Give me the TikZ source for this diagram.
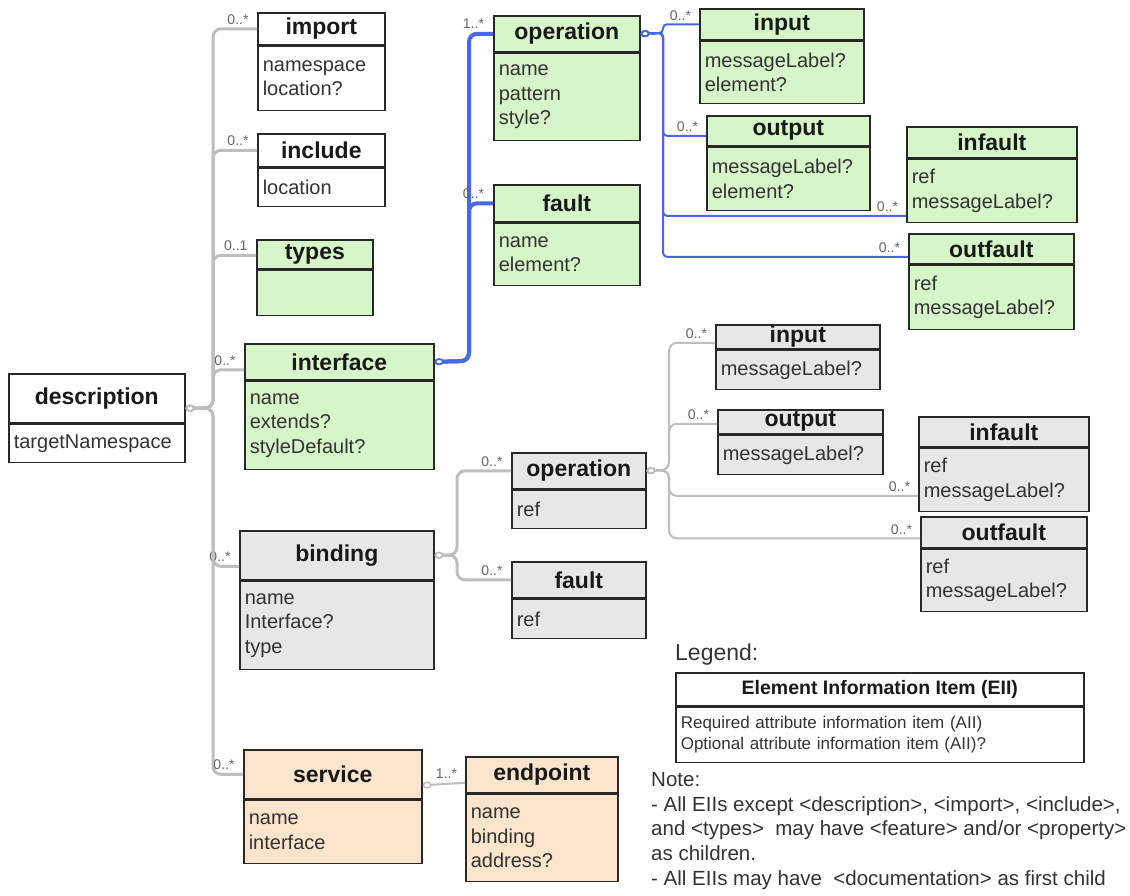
\documentclass[tikz,border=0pt]{standalone}
\usepackage{fontspec}
\setmainfont{Liberation Sans}
\usepackage{tikz}
\usetikzlibrary{arrows.meta,positioning}

\definecolor{eiigreen}{RGB}{214,245,200}
\definecolor{eiigray}{RGB}{231,231,231}
\definecolor{eiitan}{RGB}{250,228,204}
\definecolor{boxline}{RGB}{40,40,40}
\definecolor{linkgray}{RGB}{190,190,190}
\definecolor{linkblue}{RGB}{72,104,228}

\begin{document}
\begin{tikzpicture}[x=1pt, y=-1pt,
        head/.style={draw=boxline, line width=1.6pt, anchor=north west, inner sep=0pt, text=black!90,
            font=\bfseries\fontsize{23}{25}\selectfont},
        body/.style={draw=boxline, line width=1.6pt, inner xsep=5pt, inner ysep=0pt, align=left, text=black!80,
            font=\fontsize{20}{24.5}\selectfont},
        mult/.style={font=\fontsize{14}{14}\selectfont, text=black!60, inner sep=1pt, anchor=south east,
            xshift=-6pt, yshift=2pt},
        gline/.style={draw=linkgray, line width=3pt, rounded corners=8pt},
        bline/.style={draw=linkblue, line width=2pt, rounded corners=4pt},
        bthick/.style={draw=linkblue, line width=4pt, rounded corners=8pt},
        hole/.style={{Circle[open, length=9pt, width=7pt, line width=1.5pt]}-}]
        \fill[white] (0,0) rectangle (1130,895);
        \useasboundingbox (0,0) rectangle (1130,895);

        % Place nodes
        \node[head, fill=white, minimum width=176pt, minimum height=49pt] (desc) at (8,373) {description};
        \node[body, fill=white, minimum width=176pt, minimum height=38pt, text width=166pt, below=0pt of desc] (desc-a) {targetNamespace};

        \node[head, fill=white, minimum width=127pt, minimum height=32pt] (import) at (257,12) {import};
        \node[body, fill=white, minimum width=127pt, minimum height=64pt, text width=117pt, below=0pt of import] (import-a) {namespace\\location?};
        \node[head, fill=white, minimum width=127pt, minimum height=33pt] (include) at (257,133) {include};
        \node[body, fill=white, minimum width=127pt, minimum height=38pt, text width=117pt, below=0pt of include] (include-a) {location};
        \node[head, fill=eiigreen, minimum width=116pt, minimum height=29pt] (types) at (256,239) {types};
        \node[body, fill=eiigreen, minimum width=116pt, minimum height=45pt, text width=106pt, below=0pt of types] (types-a) {};
        \node[head, fill=eiigreen, minimum width=189pt, minimum height=36pt] (interface) at (244,343) {interface};
        \node[body, fill=eiigreen, minimum width=189pt, minimum height=88pt, text width=179pt, below=0pt of interface] (interface-a) {name\\extends?\\styleDefault?};
        \node[head, fill=eiigray, minimum width=194pt, minimum height=49pt] (binding) at (239,530) {binding};
        \node[body, fill=eiigray, minimum width=194pt, minimum height=88pt, text width=184pt, below=0pt of binding] (binding-a) {name\\Interface?\\type};
        \node[head, fill=eiitan, minimum width=178pt, minimum height=49pt] (service) at (243,749) {service};
        \node[body, fill=eiitan, minimum width=178pt, minimum height=63pt, text width=168pt, below=0pt of service] (service-a) {name\\interface};
        \node[head, fill=eiitan, minimum width=152pt, minimum height=36pt] (endpoint) at (465,756) {endpoint};
        \node[body, fill=eiitan, minimum width=152pt, minimum height=87pt, text width=142pt, below=0pt of endpoint] (endpoint-a) {name\\binding\\address?};

        % interface children
        \node[head, fill=eiigreen, minimum width=146pt, minimum height=36pt] (iop) at (493,15) {operation};
        \node[body, fill=eiigreen, minimum width=146pt, minimum height=87pt, text width=136pt, below=0pt of iop] (iop-a) {name\\pattern\\style?};
        \node[head, fill=eiigreen, minimum width=146pt, minimum height=37pt] (ifault) at (493,184) {fault};
        \node[body, fill=eiigreen, minimum width=146pt, minimum height=62pt, text width=136pt, below=0pt of ifault] (ifault-a) {name\\element?};
        \node[head, fill=eiigreen, minimum width=164pt, minimum height=31pt] (iin) at (699,8) {input};
        \node[body, fill=eiigreen, minimum width=164pt, minimum height=62pt, text width=154pt, below=0pt of iin] (iin-a) {messageLabel?\\element?};
        \node[head, fill=eiigreen, minimum width=163pt, minimum height=30pt] (iout) at (706,115) {output};
        \node[body, fill=eiigreen, minimum width=163pt, minimum height=63pt, text width=153pt, below=0pt of iout] (iout-a) {messageLabel?\\element?};
        \node[head, fill=eiigreen, minimum width=170pt, minimum height=31pt] (iinfault) at (906,126) {infault};
        \node[body, fill=eiigreen, minimum width=170pt, minimum height=63pt, text width=160pt, below=0pt of iinfault] (iinfault-a) {ref\\messageLabel?};
        \node[head, fill=eiigreen, minimum width=165pt, minimum height=30pt] (ioutfault) at (908,233) {outfault};
        \node[body, fill=eiigreen, minimum width=165pt, minimum height=64pt, text width=155pt, below=0pt of ioutfault] (ioutfault-a) {ref\\messageLabel?};

        % binding children
        \node[head, fill=eiigray, minimum width=134pt, minimum height=36pt] (bop) at (511,452) {operation};
        \node[body, fill=eiigray, minimum width=134pt, minimum height=38pt, text width=124pt, below=0pt of bop] (bop-a) {ref};
        \node[head, fill=eiigray, minimum width=134pt, minimum height=36pt] (bfault) at (511,561) {fault};
        \node[body, fill=eiigray, minimum width=134pt, minimum height=39pt, text width=124pt, below=0pt of bfault] (bfault-a) {ref};
        \node[head, fill=eiigray, minimum width=164pt, minimum height=24pt] (bin) at (715,324) {input};
        \node[body, fill=eiigray, minimum width=164pt, minimum height=39pt, text width=154pt, below=0pt of bin] (bin-a) {messageLabel?};
        \node[head, fill=eiigray, minimum width=165pt, minimum height=24pt] (bout) at (717,409) {output};
        \node[body, fill=eiigray, minimum width=165pt, minimum height=39pt, text width=155pt, below=0pt of bout] (bout-a) {messageLabel?};
        \node[head, fill=eiigray, minimum width=170pt, minimum height=30pt] (binfault) at (918,416) {infault};
        \node[body, fill=eiigray, minimum width=170pt, minimum height=63pt, text width=160pt, below=0pt of binfault] (binfault-a) {ref\\messageLabel?};
        \node[head, fill=eiigray, minimum width=166pt, minimum height=31pt] (boutfault) at (920,516) {outfault};
        \node[body, fill=eiigray, minimum width=166pt, minimum height=62pt, text width=156pt, below=0pt of boutfault] (boutfault-a) {ref\\messageLabel?};

        % Legend and note
        \node[anchor=west, inner sep=0pt, text=black!80, font=\fontsize{23}{23}\selectfont] (legendtitle) at (675,655) {Legend:};
        \node[head, fill=white, minimum width=408pt, minimum height=33pt, font=\bfseries\fontsize{19.5}{21}\selectfont] (legend) at (675,672) {Element Information Item (EII)};
        \node[body, fill=white, minimum width=408pt, minimum height=55pt, text width=398pt, font=\fontsize{17}{21}\selectfont, below=0pt of legend] (legend-a) {Required attribute information item (AII)\\Optional attribute information item (AII)?};
        \node[anchor=north west, align=left, inner sep=0pt, text=black!80, font=\fontsize{20.5}{24.75}\selectfont] (note) at (651,772)
            {Note:\\- All EIIs except <description>, <import>, <include>,\\and <types>\ \ may have <feature> and/or <property>\\as children.\\- All EIIs may have\ \ <documentation> as first child};

        % Draw edges
        \coordinate (dtrunk) at (213,408);
        \draw[gline, hole] ([yshift=-10pt]desc.east) -- (dtrunk) |- (import.west) node[mult, at end] {0..*};
        \draw[gline, hole] ([yshift=-10pt]desc.east) -- (dtrunk) |- (include.west) node[mult, at end] {0..*};
        \draw[gline, hole] ([yshift=-10pt]desc.east) -- (dtrunk) |- ([yshift=-1pt]types.west) node[mult, at end] {0..1};
        \draw[gline, hole] ([yshift=-10pt]desc.east) -- (dtrunk) |- ([yshift=-8pt]interface.west) node[mult, at end] {0..*};
        \draw[gline, hole] ([yshift=-10pt]desc.east) -- (dtrunk) |- ([yshift=-11pt]binding.west) node[mult, at end] {0..*};
        \draw[gline, hole] ([yshift=-10pt]desc.east) -- (dtrunk) |- (service.west) node[mult, at end] {0..*};

        \coordinate (itrunk) at (469,361);
        \draw[bthick, hole] (interface.east) -- (itrunk) |- (iop.west) node[mult, at end] {1..*};
        \draw[bthick, hole] (interface.east) -- (itrunk) |- (ifault.west) node[mult, at end] {0..*};

        \coordinate (otrunk) at (663,33);
        \draw[bline, hole] (iop.east) -- (otrunk) |- (iin.west) node[mult, at end] {0..*};
        \draw[bline, hole] (iop.east) -- (otrunk) |- ([yshift=-5pt]iout.west) node[mult, at end] {0..*};
        \draw[bline, hole] (iop.east) -- (otrunk) |- ([yshift=-25pt]iinfault-a.west) node[mult, at end] {0..*};
        \draw[bline, hole] (iop.east) -- (otrunk) |- ([yshift=-8pt]ioutfault.west) node[mult, at end] {0..*};

        \coordinate (btrunk) at (457,555);
        \draw[gline, hole] (binding.east) -- (btrunk) |- (bop.west) node[mult, at end] {0..*};
        \draw[gline, hole] (binding.east) -- (btrunk) |- (bfault.west) node[mult, at end] {0..*};

        \coordinate (ptrunk) at (669,470);
        \draw[gline, line width=2pt, hole] (bop.east) -- (ptrunk) |- ([yshift=-6pt]bin.west) node[mult, at end] {0..*};
        \draw[gline, line width=2pt, hole] (bop.east) -- (ptrunk) |- ([yshift=-2pt]bout.west) node[mult, at end] {0..*};
        \draw[gline, line width=2pt, hole] (bop.east) -- (ptrunk) |- ([yshift=-16pt]binfault-a.west) node[mult, at end] {0..*};
        \draw[gline, line width=2pt, hole] (bop.east) -- (ptrunk) |- ([yshift=-6pt]boutfault.west) node[mult, at end] {0..*};

        \draw[gline, line width=2pt, hole] ([yshift=-11pt]service.east) -- ([yshift=-8pt]endpoint.west) node[mult, at end] {1..*};
    \end{tikzpicture}
\end{document}
